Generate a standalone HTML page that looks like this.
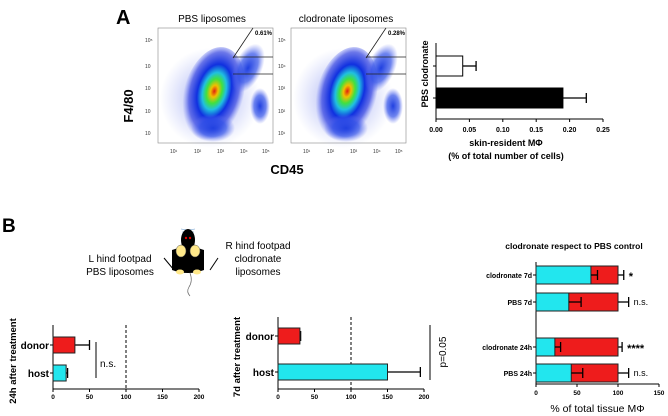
<!DOCTYPE html>
<html><head><meta charset="utf-8"><style>
body{margin:0;background:#fff;width:668px;height:416px;overflow:hidden;font-family:"Liberation Sans",sans-serif}
svg{display:block}
</style></head><body>
<svg width="668" height="416" viewBox="0 0 668 416" font-family="Liberation Sans, sans-serif">
<defs>
<radialGradient id="blob" cx="50%" cy="45%" r="50%">
<stop offset="0" stop-color="#e02010"/><stop offset="0.12" stop-color="#f0c000"/><stop offset="0.25" stop-color="#40e040"/><stop offset="0.38" stop-color="#20c0e0"/><stop offset="0.55" stop-color="#1030e0"/><stop offset="0.8" stop-color="#3040e0" stop-opacity="0.7"/><stop offset="1" stop-color="#6070f0" stop-opacity="0"/>
</radialGradient>
<radialGradient id="blue" cx="50%" cy="50%" r="50%">
<stop offset="0" stop-color="#2040e0"/><stop offset="0.6" stop-color="#3050e8" stop-opacity="0.7"/><stop offset="1" stop-color="#6070f0" stop-opacity="0"/>
</radialGradient>
<radialGradient id="haze" cx="50%" cy="50%" r="50%">
<stop offset="0" stop-color="#5060e8" stop-opacity="0.6"/><stop offset="1" stop-color="#8090f0" stop-opacity="0"/>
</radialGradient>
<g id="flow">
<rect x="0" y="0" width="115" height="115" fill="#fff" stroke="#888" stroke-width="0.6"/>
<ellipse cx="52" cy="70" rx="50" ry="50" fill="url(#haze)"/>
<ellipse cx="55" cy="68" rx="30" ry="50" fill="url(#blob)" transform="rotate(15 55 68)"/>
<ellipse cx="55" cy="100" rx="22" ry="14" fill="url(#blue)"/>
<ellipse cx="90" cy="40" rx="14" ry="26" fill="url(#blue)" transform="rotate(25 90 40)"/>
<ellipse cx="102" cy="78" rx="10" ry="18" fill="url(#blue)"/>
<line x1="75" y1="30" x2="95" y2="0" stroke="#222" stroke-width="0.8"/>
<line x1="75" y1="29" x2="115" y2="29" stroke="#222" stroke-width="0.8"/>
<line x1="75" y1="46" x2="115" y2="46" stroke="#222" stroke-width="0.8"/>
</g>
</defs>
<text x="116" y="24" font-size="20" font-weight="bold">A</text>
<text x="212" y="22" font-size="10" text-anchor="middle">PBS liposomes</text>
<text x="346" y="22" font-size="10" text-anchor="middle">clodronate liposomes</text>
<use href="#flow" x="158" y="28"/>
<use href="#flow" x="291" y="28"/>
<text x="255" y="35" font-size="6" font-weight="bold">0.61%</text>
<text x="388" y="35" font-size="6" font-weight="bold">0.28%</text>
<g font-size="5" fill="#333">
<text x="145" y="42">10⁵</text><text x="145" y="68">10</text><text x="145" y="90">10</text><text x="145" y="113">10</text><text x="145" y="135">10</text>
<text x="278" y="42">10⁵</text><text x="278" y="68">10⁴</text><text x="278" y="90">10³</text><text x="278" y="113">10²</text><text x="278" y="135">10¹</text>
<text x="170" y="153">10¹</text><text x="194" y="153">10²</text><text x="217" y="153">10³</text><text x="240" y="153">10⁴</text><text x="262" y="153">10⁵</text>
<text x="303" y="153">10¹</text><text x="327" y="153">10²</text><text x="350" y="153">10³</text><text x="373" y="153">10⁴</text><text x="395" y="153">10⁵</text>
</g>
<text x="133" y="106" font-size="13" font-weight="bold" transform="rotate(-90 133 106)" text-anchor="middle">F4/80</text>
<text x="287" y="174" font-size="13" font-weight="bold" text-anchor="middle">CD45</text>
<g id="chartA"></g>
<text x="2" y="232" font-size="19" font-weight="bold">B</text>
<g>
<path d="M181 229 l7 1 M195 229 l-7 1 M182 232 l6 0 M194 232 l-6 0" stroke="#69c" stroke-width="0.6"/>
<ellipse cx="188" cy="240" rx="7" ry="11" fill="#000"/>
<circle cx="186" cy="238" r="1.2" fill="#d00"/><circle cx="190" cy="238" r="1.2" fill="#d00"/>
<path d="M172 250 Q188 244 204 250 L204 270 Q188 276 172 270 Z" fill="#000"/>
<ellipse cx="181" cy="251" rx="5" ry="6" fill="#ffe88a" stroke="#555" stroke-width="0.5"/>
<ellipse cx="195" cy="251" rx="5" ry="6" fill="#ffe88a" stroke="#555" stroke-width="0.5"/>
<ellipse cx="180" cy="272" rx="4" ry="2.5" fill="#ffe88a"/><ellipse cx="197" cy="272" rx="4" ry="2.5" fill="#ffe88a"/>
<path d="M190 273 q3 8 -1 14 q-3 5 1 9" stroke="#666" fill="none" stroke-width="0.7"/>
<line x1="164" y1="258" x2="174" y2="270" stroke="#000"/><line x1="218" y1="258" x2="210" y2="270" stroke="#000"/>
</g>
<g font-size="10" text-anchor="middle">
<text x="120" y="262">L hind footpad</text><text x="120" y="275">PBS liposomes</text>
<text x="258" y="249">R hind footpad</text><text x="258" y="262">clodronate</text><text x="258" y="275">liposomes</text>
</g>
<g id="chart24"></g>
<g id="chart7"></g>
<g id="chartR"></g>
</svg>
<script>
// Panel A bar chart
const aCats=["clodronate","PBS"];
const aVals=[0.04,0.19];
const aErr=[0.06,0.225];
const aTicks=[0,0.05,0.10,0.15,0.20,0.25];
// 24h chart
const c24Cats=["donor","host"];
const c24Vals=[30,18];
const c24Err=[50,20];
// 7d chart
const c7Cats=["donor","host"];
const c7Vals=[30,150];
const c7Err=[31,195];
const bTicks=[0,50,100,150,200];
// Right stacked chart
const rCats=["clodronate 7d","PBS 7d","clodronate 24h","PBS 24h"];
const rHost=[67,40,23,43];
const rHostErr=[75,55,30,57];
const rTotal=[100,100,100,100];
const rTotalErr=[107,113,105,113];
const rSig=["*","n.s.","****","n.s."];
const rTicks=[0,50,100,150];
const NS="http://www.w3.org/2000/svg";
function mk(p,t,a,txt){const e=document.createElementNS(NS,t);for(const k in a)e.setAttribute(k,a[k]);if(txt!==undefined)e.textContent=txt;p.appendChild(e);return e;}
// A
(function(){
const g=document.getElementById('chartA');
const X0=436,X1=603,YB=119;
const x=v=>X0+v/0.25*(X1-X0);const ys=[66,98];const h=20;
mk(g,'line',{x1:X0,y1:43,x2:X0,y2:YB,stroke:'#000','stroke-width':1});
mk(g,'line',{x1:X0,y1:YB,x2:X1,y2:YB,stroke:'#000','stroke-width':1});
aTicks.forEach(t=>{const l=mk(g,'line',{x1:x(t),y1:YB,x2:x(t),y2:YB+3,stroke:'#000'});
const tx=mk(g,'text',{x:x(t),y:132,'font-size':7,'text-anchor':'middle','font-weight':'bold'},t.toFixed(2));});
aCats.forEach((c,i)=>{const y=ys[i];
mk(g,'line',{x1:x(aVals[i]),y1:y,x2:x(aErr[i]),y2:y,stroke:'#000','stroke-width':1.3});
mk(g,'line',{x1:x(aErr[i]),y1:y-5,x2:x(aErr[i]),y2:y+5,stroke:'#000','stroke-width':1.3});
const r=mk(g,'rect',{x:X0,y:y-h/2,width:x(aVals[i])-X0,height:h,fill:i==0?'#fff':'#000',stroke:'#000','stroke-width':1});

mk(g,'line',{x1:X0-3,y1:y,x2:X0,y2:y,stroke:'#000'});});
const t=mk(g,'text',{x:428,y:74,'font-size':9,'font-weight':'bold','text-anchor':'middle',transform:'rotate(-90 428 74)'},'PBS clodronate');
const t2=mk(g,'text',{x:506,y:146,'font-size':9,'font-weight':'bold','text-anchor':'middle'},'skin-resident MΦ');
const t3=mk(g,'text',{x:506,y:159,'font-size':9,'font-weight':'bold','text-anchor':'middle'},'(% of total number of cells)');
})();
function bchart(id,x0,x1,ytop,ybot,ys,h,cats,vals,errs,label,lx){
const g=document.getElementById(id);const x=v=>x0+v/200*(x1-x0);
mk(g,'line',{x1:x0,y1:ytop,x2:x0,y2:ybot,stroke:'#000'});
mk(g,'line',{x1:x0,y1:ybot,x2:x1,y2:ybot,stroke:'#000'});
bTicks.forEach(t=>{mk(g,'line',{x1:x(t),y1:ybot,x2:x(t),y2:ybot+3,stroke:'#000'});
const tx=mk(g,'text',{x:x(t),y:ybot+10,'font-size':6.5,'text-anchor':'middle','font-weight':'bold'},t);});
mk(g,'line',{x1:x(100),y1:ytop,x2:x(100),y2:ybot,stroke:'#000','stroke-dasharray':'3,2'});
cats.forEach((c,i)=>{const y=ys[i];
mk(g,'line',{x1:x(vals[i]),y1:y,x2:x(errs[i]),y2:y,stroke:'#000','stroke-width':1.3});
mk(g,'line',{x1:x(errs[i]),y1:y-5,x2:x(errs[i]),y2:y+5,stroke:'#000','stroke-width':1.3});
const r=mk(g,'rect',{x:x0,y:y-h/2,width:x(vals[i])-x0,height:h,fill:i==0?'#ee1c1c':'#22e6ee',stroke:'#222','stroke-width':1});

mk(g,'line',{x1:x0-3,y1:y,x2:x0,y2:y,stroke:'#000'});
const tx=mk(g,'text',{x:x0-4,y:y+4,'font-size':10,'text-anchor':'end','font-weight':'bold'},c);});
const t=mk(g,'text',{x:lx,y:(ytop+ybot)/2+4,'font-size':9.5,'font-weight':'bold','text-anchor':'middle',transform:`rotate(-90 ${lx} ${(ytop+ybot)/2+4})`},label);
return {g,x};}
const b1=bchart('chart24',53,199,325,389,[345,373],16,c24Cats,c24Vals,c24Err,'24h after treatment',16);
mk(b1.g,'line',{x1:96,y1:342,x2:96,y2:378,stroke:'#000'});
mk(b1.g,'text',{x:100,y:367,'font-size':10},'n.s.');
const b2=bchart('chart7',278,424,317,389,[336,372],16,c7Cats,c7Vals,c7Err,'7d after treatment',240);
mk(b2.g,'line',{x1:430,y1:325,x2:430,y2:380,stroke:'#000'});
mk(b2.g,'text',{x:446,y:352,'font-size':10,'text-anchor':'middle',transform:'rotate(-90 446 352)'},'p=0.05');
(function(){
const g=document.getElementById('chartR');const x0=536,x1=659,ybot=384;const x=v=>x0+v/150*(x1-x0);
const ys=[275,302,347,373];const h=18;
mk(g,'text',{x:574,y:249,'font-size':8.5,'text-anchor':'middle','font-weight':'bold'},'clodronate respect to PBS control');
mk(g,'line',{x1:x0,y1:262,x2:x0,y2:ybot,stroke:'#000'});
mk(g,'line',{x1:x0,y1:ybot,x2:x1,y2:ybot,stroke:'#000'});
rTicks.forEach(t=>{mk(g,'line',{x1:x(t),y1:ybot,x2:x(t),y2:ybot+3,stroke:'#000'});
const tx=mk(g,'text',{x:x(t),y:ybot+11,'font-size':6.5,'text-anchor':'middle','font-weight':'bold'},t);});
rCats.forEach((c,i)=>{const y=ys[i];
mk(g,'line',{x1:x(rTotal[i]),y1:y,x2:x(rTotalErr[i]),y2:y,stroke:'#000','stroke-width':1.3});
mk(g,'line',{x1:x(rTotalErr[i]),y1:y-5,x2:x(rTotalErr[i]),y2:y+5,stroke:'#000','stroke-width':1.3});
const r1=mk(g,'rect',{x:x0,y:y-h/2,width:x(rTotal[i])-x0,height:h,fill:'#ee1c1c',stroke:'#222'});

const r2=mk(g,'rect',{x:x0,y:y-h/2,width:x(rHost[i])-x0,height:h,fill:'#22e6ee',stroke:'#222'});

mk(g,'line',{x1:x(rHost[i]),y1:y,x2:x(rHostErr[i]),y2:y,stroke:'#000','stroke-width':1.3});
mk(g,'line',{x1:x(rHostErr[i]),y1:y-5,x2:x(rHostErr[i]),y2:y+5,stroke:'#000','stroke-width':1.3});
mk(g,'line',{x1:x0-3,y1:y,x2:x0,y2:y,stroke:'#000'});
const tx=mk(g,'text',{x:x0-4,y:y+3,'font-size':7,'text-anchor':'end','font-weight':'bold'},c);
const s=mk(g,'text',{x:x(rTotalErr[i])+5,y:y+(rSig[i]=='n.s.'?3:5),'font-size':rSig[i]=='n.s.'?9:11,'font-weight':rSig[i]=='n.s.'?'normal':'bold'},rSig[i]);});
mk(g,'text',{x:x(75),y:412,'font-size':10.5,'text-anchor':'middle'},'% of total tissue MΦ');
})();
</script>
</body></html>
